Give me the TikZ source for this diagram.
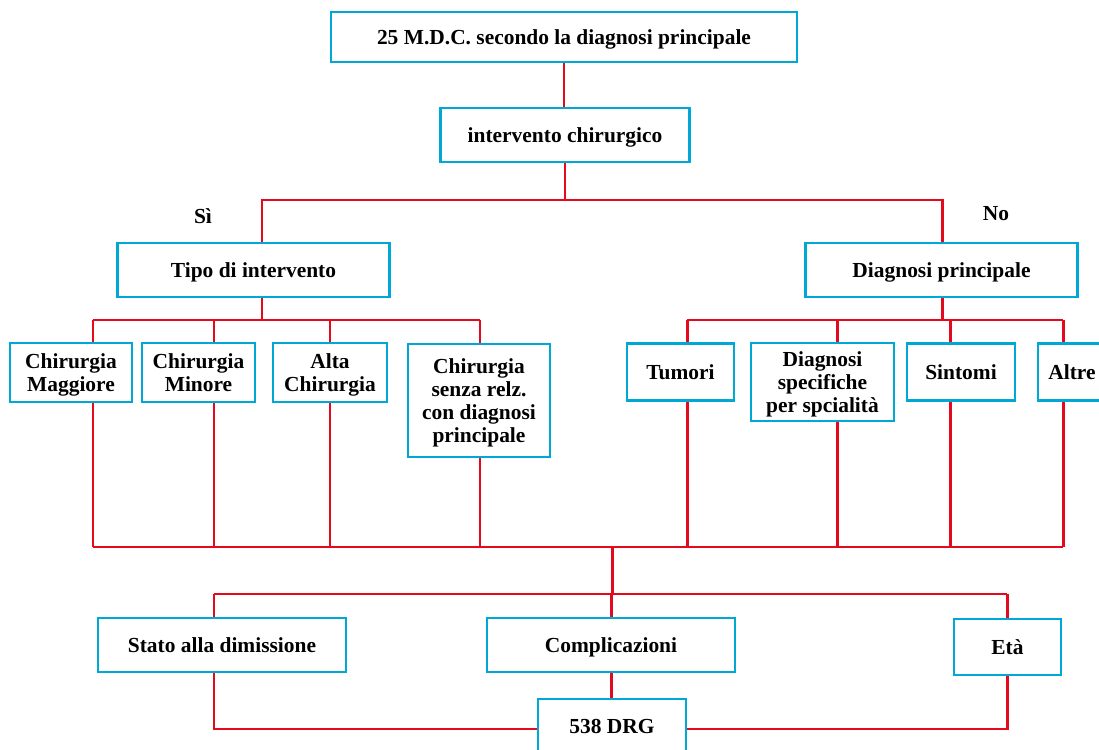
\documentclass[tikz,border=0pt]{standalone}
\usepackage{fontspec}
\setmainfont{Liberation Serif}
\usepackage{xcolor}
\usepackage{tikz}
\usetikzlibrary{positioning}

\definecolor{boxblue}{RGB}{0,168,214}
\definecolor{wirered}{RGB}{228,10,30}

\tikzset{
	box/.style={draw=boxblue, line width=1.6pt, fill=white, align=center, inner sep=2pt,
		text depth=0pt, font=\fontsize{12.2}{13.2}\selectfont\bfseries},
	wire/.style={draw=wirered, line width=1.7pt},
	lbl/.style={font=\fontsize{12.2}{13.2}\selectfont\bfseries}
}

\begin{document}
\begin{tikzpicture}[x=0.02cm, y=-0.02cm]
				\clip (0,0) rectangle (1099,750);
				\fill[white] (0,0) rectangle (1099,750);
				% Nodes:
				\node[box, minimum width=9.32cm, minimum height=1.0cm] (mdc) at (564, 37){25 M.D.C. secondo la diagnosi principale};
				\node[box, minimum width=4.98cm, minimum height=1.08cm] (interv) at (565, 135){intervento chirurgico};
				\node[box, minimum width=5.44cm, minimum height=1.08cm] (tipo) at (253.5, 270){Tipo di intervento};
				\node[box, minimum width=5.44cm, minimum height=1.08cm] (diag) at (941.5, 270){Diagnosi principale};
				\node[lbl] (si) at (203, 216){Sì};
				\node[lbl] (no) at (996, 214){No};
				
				\node[box, minimum width=2.44cm, minimum height=1.18cm] (magg) at (71, 372.5){Chirurgia\\Maggiore};
				\node[box, minimum width=2.26cm, minimum height=1.18cm] (minore) at (198.5, 372.5){Chirurgia\\Minore};
				\node[box, minimum width=2.28cm, minimum height=1.18cm] (alta) at (330, 372.5){Alta\\Chirurgia};
				\node[box, minimum width=2.84cm, minimum height=2.26cm] (senza) at (479, 400.5){Chirurgia\\senza relz.\\con diagnosi\\principale};
				
				\node[box, minimum width=2.14cm, minimum height=1.14cm] (tumori) at (680.5, 372){Tumori};
				\node[box, minimum width=2.86cm, minimum height=1.56cm] (spec) at (822.5, 382){Diagnosi\\specifiche\\per spcialità};
				\node[box, minimum width=2.16cm, minimum height=1.14cm] (sintomi) at (961, 372){Sintomi};
				\node[box, minimum width=1.36cm, minimum height=1.14cm] (altre) at (1072, 372){Altre};
				
				\node[box, minimum width=4.96cm, minimum height=1.08cm] (stato) at (222, 645){Stato alla dimissione};
				\node[box, minimum width=4.96cm, minimum height=1.08cm] (compl) at (611, 645){Complicazioni};
				\node[box, minimum width=2.14cm, minimum height=1.12cm] (eta) at (1007.5, 647){Età};
				\node[box, minimum width=2.96cm, minimum height=1.08cm] (drg) at (612, 726){538 DRG};
				
				% Junctions:
				\coordinate (siT) at (262, 200);
				\coordinate (noT) at (942, 200);
				\coordinate (siB) at (262, 320);
				\coordinate (noB) at (942, 320);
				\coordinate (bus) at (612, 547);
				\coordinate (fan) at (612, 594);
				\coordinate (dl) at (214, 729);
				\coordinate (dr) at (1007, 729);
				
				% Wires:
				\draw[wire] (mdc.south) -- (mdc.south |- interv.north);
				\draw[wire] (interv.south) -- (interv.south |- siT);
				\draw[wire] (tipo.north -| siT) -- (siT) -- (noT) -- (noT |- diag.north);
				\draw[wire] (tipo.south -| siB) -- (siB);
				\draw[wire] (diag.south -| noB) -- (noB);
				\draw[wire] (93, 320) -- (480, 320);
				\draw[wire] (687, 320) -- (1063, 320);
				\draw[wire] (93, 547) -- (1063, 547);
				\foreach \n/\x in {magg/93, minore/214, alta/330, senza/480, tumori/687, spec/837, sintomi/950, altre/1063}{
					\coordinate (t\n) at (\x, 320);
					\coordinate (b\n) at (\x, 547);
					\draw[wire] (t\n) -- (t\n |- \n.north);
					\draw[wire] (\n.south -| b\n) -- (b\n);
				}
				\draw[wire] (bus) -- (fan);
				\draw[wire] (214, 594) -- (1007, 594);
				\foreach \n/\x in {stato/214, compl/611, eta/1007}{
					\coordinate (f\n) at (\x, 594);
					\draw[wire] (f\n) -- (f\n |- \n.north);
				}
				\draw[wire] (compl.south) -- (compl.south |- drg.north);
				\draw[wire] (stato.south -| dl) -- (dl) -- (dl -| drg.west);
				\draw[wire] (eta.south -| dr) -- (dr) -- (dr -| drg.east);
			\end{tikzpicture}
\end{document}
